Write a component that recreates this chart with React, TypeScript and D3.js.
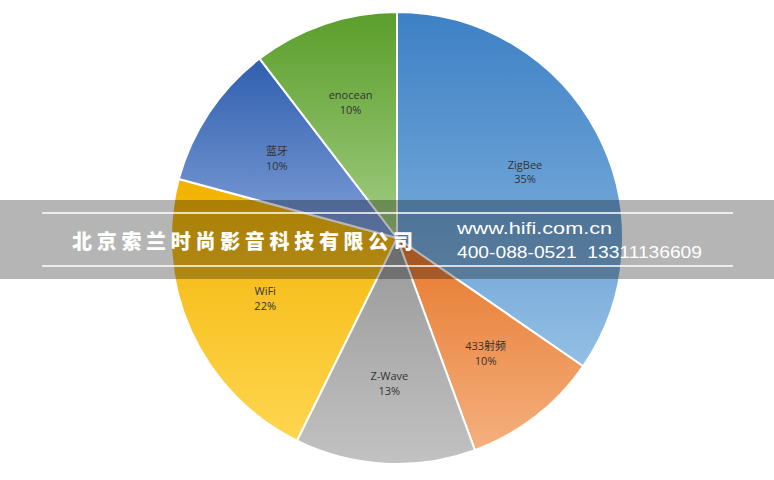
import React from "react";
import * as d3 from "d3";

const categories = ["ZigBee", "433射频", "Z-Wave", "WiFi", "蓝牙", "enocean"];
const values = [34.6, 9.8, 12.9, 21.9, 10.4, 10.4];

const topColors = ["#3d80c5", "#e6772b", "#989898", "#f2b200", "#2f5fae", "#5b9e2b"];
const bottomColors = ["#93bfe4", "#f5b07e", "#c2c2c2", "#ffd650", "#809fd8", "#a2cd83"];

const W = 774;
const H = 480;
const cx = 397;
const cy = 238;
const R = 226;

export default function App() {
  const data = categories.map((c, i) => ({ name: c, value: values[i], i }));
  const pie = d3.pie<any>().value((d) => d.value).sort(null).startAngle(0).endAngle(2 * Math.PI);
  const arcs = pie(data);
  const arc = d3.arc<any>().innerRadius(0).outerRadius(R);
  const labelArc = d3.arc<any>().innerRadius(R * 0.64).outerRadius(R * 0.64);
  const total = d3.sum(values);

  return (
    <svg
      width={W}
      height={H}
      style={{ position: "fixed", left: 0, top: 0, display: "block", background: "#fff" }}
    >
      <defs>
        {arcs.map((a, i) => (
          <linearGradient key={i} id={`g${i}`} x1="0" y1="0" x2="0" y2="1">
            <stop offset="0%" stopColor={topColors[i]} />
            <stop offset="100%" stopColor={bottomColors[i]} />
          </linearGradient>
        ))}
      </defs>
      <g transform={`translate(${cx},${cy})`}>
        {arcs.map((a, i) => (
          <path key={i} d={arc(a) as string} fill={`url(#g${i})`} stroke="#ffffff" strokeWidth={2} strokeLinejoin="round" />
        ))}
        {arcs.map((a, i) => {
          const [x, y] = labelArc.centroid(a);
          return (
            <text
              key={i}
              x={x}
              y={y}
              textAnchor="middle"
              fontFamily="'Open Sans', 'Noto Sans CJK SC', sans-serif"
              fontSize={11}
              fill="#333333"
            >
              <tspan x={x} dy="-0.2em">{a.data.name}</tspan>
              <tspan x={x} dy="1.35em">{`${Math.round((a.data.value / total) * 100)}%`}</tspan>
            </text>
          );
        })}
      </g>
      <rect x={0} y={200} width={W} height={79} fill="#000" fillOpacity={0.29} />
      <line x1={42} x2={733} y1={213} y2={213} stroke="#ffffff" strokeWidth={1.3} />
      <line x1={42} x2={733} y1={266} y2={266} stroke="#ffffff" strokeWidth={1.3} />
      <text
        x={72}
        y={249}
        fill="#ffffff"
        fontFamily="'Noto Sans CJK SC', sans-serif"
        fontWeight={900}
        fontSize={20}
        textLength={341}
        lengthAdjust="spacing"
      >
        北京索兰时尚影音科技有限公司
      </text>
      <text
        x={457}
        y={234}
        fill="#ffffff"
        fontFamily="'Liberation Sans', Arial, sans-serif"
        fontSize={16}
        textLength={155}
        lengthAdjust="spacingAndGlyphs"
      >
        www.hifi.com.cn
      </text>
      <text
        x={457}
        y={258}
        fill="#ffffff"
        fontFamily="'Liberation Sans', Arial, sans-serif"
        fontSize={16}
        textLength={245}
        lengthAdjust="spacingAndGlyphs"
      >
        {"400-088-0521\u00a0\u00a013311136609"}
      </text>
    </svg>
  );
}
